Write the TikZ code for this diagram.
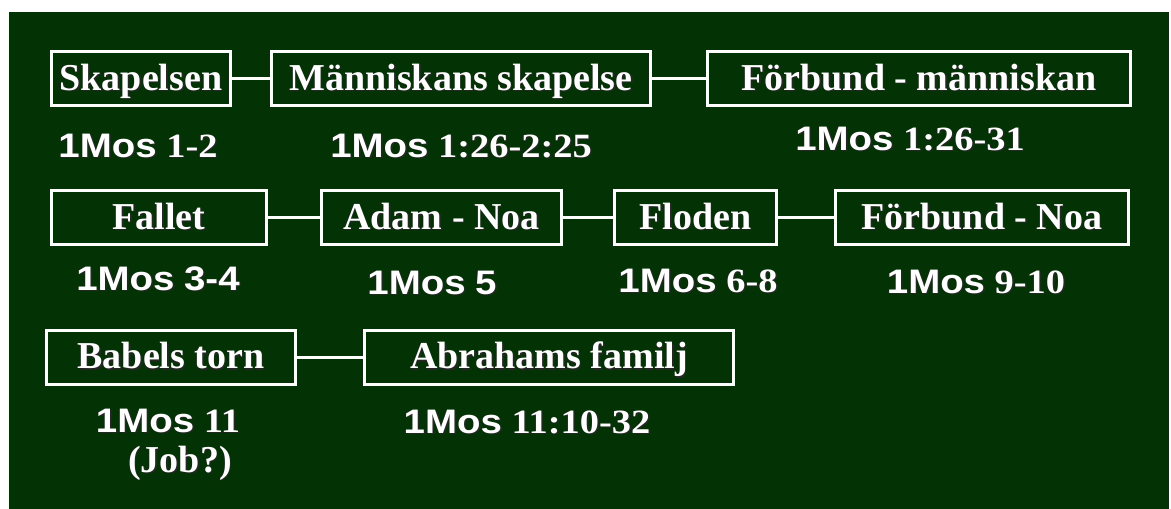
\documentclass[tikz,border=0pt]{standalone}
\usepackage{fontspec}
\setmainfont{Liberation Serif}
\setsansfont{Liberation Sans}
\usepackage{tikz}

\definecolor{tavla}{RGB}{3,51,4}
\newcommand\skugga[1]{\rlap{\kern1.5pt\raisebox{-1.5pt}{\color{black!85}#1}}#1}
\newcommand\bok[1]{\scalebox{1.13}[1]{\skugga{{\sffamily 1Mos} #1}}}

\begin{document}
\begin{tikzpicture}[
  x=1pt, y=-1pt,
  boks/.style={draw=white, line width=3pt, text=white, inner sep=0pt,
    minimum height=54pt, text height=30pt, text depth=7pt,
    font=\bfseries\fontsize{38}{40}\selectfont},
  ref/.style={text=white, inner sep=0pt, anchor=base,
    font=\bfseries\fontsize{34}{36}\selectfont},
  forbind/.style={draw=white, line width=3pt}
]
\useasboundingbox (0,0) rectangle (1171,509);
\fill[white] (0,0) rectangle (1171,509);
\fill[tavla] (9,12) rectangle (1169,509);

% rad 1
\node[boks, minimum width=179pt] (sk) at (141,78.5) {\skugga{Skapelsen}};
\node[boks, minimum width=379pt] (ms) at (461,78.5) {\skugga{Människans skapelse}};
\node[boks, minimum width=423pt] (fm) at (919,78.5) {\skugga{Förbund - människan}};

% rad 2
\node[boks, minimum width=215pt] (fa) at (159,217.5) {\skugga{Fallet}};
\node[boks, minimum width=240pt] (an) at (441.5,217.5) {\skugga{Adam - Noa}};
\node[boks, minimum width=162pt] (fl) at (695.5,217.5) {\skugga{Floden}};
\node[boks, minimum width=293pt] (fn) at (982,217.5) {\skugga{Förbund - Noa}};

% rad 3
\node[boks, minimum width=249pt] (bt) at (171,357) {\skugga{Babels torn}};
\node[boks, minimum width=369pt] (af) at (549,357) {\skugga{Abrahams familj}};

% hänvisningar
\node[ref] (r-sk) at (138,157) {\bok{1-2}};
\node[ref] (r-ms) at (461,157) {\bok{1:26-2:25}};
\node[ref] (r-fm) at (910,150) {\bok{1:26-31}};
\node[ref] (r-fa) at (158,290) {\bok{\sffamily 3-4}};
\node[ref] (r-an) at (432,294) {\bok{\sffamily 5}};
\node[ref] (r-fl) at (698,292) {\bok{6-8}};
\node[ref] (r-fn) at (976,293) {\bok{9-10}};
\node[ref] (r-bt) at (168,432) {\bok{11}};
\node[ref, font=\bfseries\fontsize{38}{40}\selectfont] (job) at (180,472) {\skugga{(Job?)}};
\node[ref] (r-af) at (527,433) {\bok{11:10-32}};

\draw[forbind] (sk) -- (ms);
\draw[forbind] (ms) -- (fm);
\draw[forbind] (fa) -- (an);
\draw[forbind] (an) -- (fl);
\draw[forbind] (fl) -- (fn);
\draw[forbind] (bt) -- (af);

\end{tikzpicture}
\end{document}
